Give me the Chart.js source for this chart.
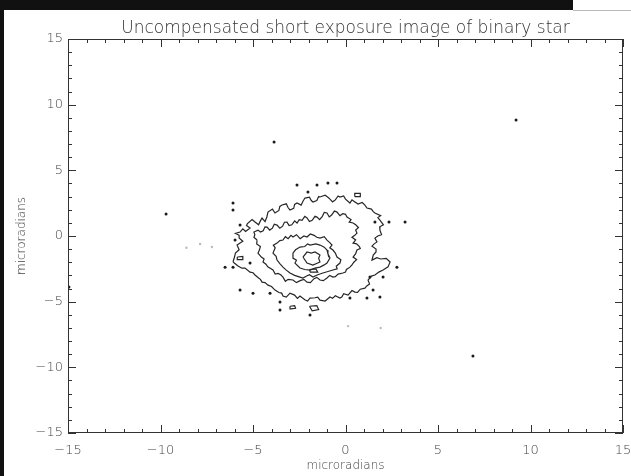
<!DOCTYPE html>
<html><head><meta charset="utf-8">
<script src="https://cdn.jsdelivr.net/npm/chart.js@4.4.1/dist/chart.umd.min.js"></script>
<style>
html,body{margin:0;padding:0;background:#fff;width:631px;height:476px;overflow:hidden}
#wrap{position:relative;width:631px;height:476px}
canvas{position:absolute;left:0;top:0}
.band{position:absolute;background:#111}
</style></head><body>
<div id="wrap"><canvas id="c" width="631" height="476"></canvas>
<div class="band" style="left:0;top:0;width:573px;height:10px"></div>
<div class="band" style="left:0;top:0;width:4px;height:476px"></div>
<div style="position:absolute;left:573px;top:10px;width:58px;height:1px;background:#bbb"></div>
</div>
<script>
const titleText = 'Uncompensated short exposure image of binary star';
const xAxisTitle = 'microradians';
const yAxisTitle = 'microradians';
const axisRange = [-15, 15];
const majorTicks = [-15, -10, -5, 0, 5, 10, 15];
const majorTickLabels = ['\u221215', '\u221210', '\u22125', '0', '5', '10', '15'];
const minorTicks = [-14, -13, -12, -11, -9, -8, -7, -6, -4, -3, -2, -1, 1, 2, 3, 4, 6, 7, 8, 9, 11, 12, 13, 14];

// contour paths (x, y in microradians), outer to inner
const contourLevel1 = [[-6.08,-1.98],[-6.00,-1.60],[-5.95,-1.30],[-5.75,-1.05],[-5.86,-0.69],[-5.55,-0.40],[-5.75,-0.15],[-5.75,0.05],[-5.95,0.20],[-5.70,0.30],[-5.55,0.55],[-5.40,0.35],[-5.16,0.61],[-5.35,0.80],[-5.30,0.95],[-5.05,1.25],[-4.89,1.06],[-4.70,0.85],[-4.60,1.15],[-4.51,1.37],[-4.35,1.10],[-4.25,1.45],[-4.19,1.82],[-3.95,2.05],[-3.81,1.75],[-3.60,1.95],[-3.55,2.25],[-3.43,2.36],[-3.20,2.45],[-3.10,2.15],[-3.00,1.98],[-2.80,2.10],[-2.75,2.40],[-2.62,2.51],[-2.40,2.35],[-2.30,2.65],[-2.19,2.89],[-1.95,2.95],[-1.85,2.70],[-1.76,2.59],[-1.55,2.70],[-1.45,3.00],[-1.38,2.97],[-1.10,3.10],[-0.95,2.95],[-0.84,2.81],[-0.70,2.60],[-0.55,2.75],[-0.40,3.05],[-0.30,2.97],[-0.10,3.05],[0.00,2.80],[0.24,2.51],[0.35,2.75],[0.45,2.65],[0.68,2.43],[0.90,2.55],[1.05,2.35],[1.16,2.13],[1.40,2.05],[1.50,1.85],[1.59,1.75],[1.90,1.55],[1.75,1.40],[1.86,1.21],[2.05,0.85],[1.85,0.70],[1.86,0.45],[1.95,0.10],[1.75,0.00],[1.59,-0.16],[1.70,-0.45],[1.55,-0.60],[1.43,-0.77],[1.65,-1.00],[1.65,-1.22],[1.50,-1.45],[1.43,-1.83],[1.70,-1.65],[1.90,-1.75],[2.20,-1.70],[2.41,-1.98],[2.30,-2.35],[2.03,-2.59],[1.80,-2.75],[1.59,-2.97],[1.40,-3.05],[1.22,-3.36],[1.30,-3.65],[1.15,-3.80],[1.05,-3.97],[0.80,-4.05],[0.65,-4.30],[0.51,-4.27],[0.35,-4.15],[0.14,-4.50],[-0.10,-4.40],[-0.20,-4.65],[-0.30,-4.73],[-0.55,-4.55],[-0.70,-4.75],[-0.84,-4.65],[-1.10,-4.95],[-1.38,-4.88],[-1.50,-4.65],[-1.65,-4.70],[-1.92,-4.73],[-2.05,-4.95],[-2.20,-4.85],[-2.46,-4.57],[-2.60,-4.75],[-2.75,-4.50],[-3.00,-4.35],[-3.20,-4.65],[-3.38,-4.57],[-3.45,-4.35],[-3.60,-4.30],[-3.81,-4.12],[-4.00,-3.85],[-4.19,-3.74],[-4.35,-3.55],[-4.51,-3.51],[-4.60,-3.30],[-4.70,-3.20],[-4.89,-2.97],[-5.00,-2.80],[-5.16,-2.75],[-5.43,-2.44],[-5.60,-2.45],[-5.81,-2.29],[-6.08,-1.98]];
const contourLevel2 = [[-4.78,-0.31],[-4.95,-0.10],[-4.90,0.10],[-4.95,0.30],[-4.73,0.45],[-4.60,0.30],[-4.45,0.40],[-4.35,0.70],[-4.24,0.68],[-4.10,0.45],[-3.95,0.60],[-3.85,0.90],[-3.70,0.83],[-3.55,0.60],[-3.40,0.75],[-3.30,1.05],[-3.16,1.06],[-3.05,0.80],[-2.90,0.85],[-2.75,1.15],[-2.62,0.99],[-2.50,1.25],[-2.35,1.20],[-2.20,1.50],[-2.08,1.37],[-1.95,1.10],[-1.80,1.20],[-1.65,1.50],[-1.54,1.44],[-1.40,1.25],[-1.25,1.50],[-1.15,1.80],[-1.00,1.75],[-0.88,1.45],[-0.75,1.60],[-0.60,1.90],[-0.46,1.82],[-0.30,1.55],[-0.15,1.70],[0.00,1.65],[0.08,1.44],[0.30,1.25],[0.20,1.05],[0.41,0.99],[0.55,0.85],[0.70,0.65],[0.55,0.45],[0.62,0.22],[0.50,0.05],[0.35,-0.10],[0.55,-0.30],[0.41,-0.54],[0.60,-0.60],[0.75,-0.80],[0.80,-0.95],[0.62,-1.07],[0.55,-1.35],[0.41,-1.60],[0.60,-1.80],[0.45,-2.00],[0.35,-2.20],[0.24,-2.37],[0.05,-2.55],[0.00,-2.75],[-0.14,-2.82],[-0.40,-2.90],[-0.55,-3.10],[-0.68,-3.13],[-0.85,-3.00],[-1.00,-3.20],[-1.20,-3.40],[-1.38,-3.35],[-1.55,-3.15],[-1.70,-3.25],[-1.90,-3.55],[-2.08,-3.51],[-2.25,-3.30],[-2.45,-3.40],[-2.65,-3.55],[-2.84,-3.35],[-3.10,-3.30],[-3.25,-3.45],[-3.38,-3.13],[-3.50,-2.95],[-3.65,-2.85],[-3.80,-2.90],[-3.92,-2.59],[-4.20,-2.35],[-4.30,-2.15],[-4.46,-1.98],[-4.40,-1.75],[-4.55,-1.60],[-4.73,-1.30],[-4.65,-1.05],[-4.60,-0.80],[-4.80,-0.60],[-4.78,-0.31]];
const contourLevel3 = [[-3.70,-0.54],[-3.55,-0.35],[-3.38,-0.31],[-3.25,-0.05],[-3.10,-0.20],[-2.95,0.05],[-2.84,-0.08],[-2.65,0.10],[-2.45,-0.20],[-2.25,0.00],[-2.08,-0.08],[-1.90,0.15],[-1.70,0.05],[-1.55,-0.10],[-1.38,-0.16],[-1.15,-0.05],[-1.00,-0.31],[-0.85,-0.50],[-0.73,-0.69],[-0.85,-0.90],[-0.68,-1.07],[-0.55,-1.30],[-0.46,-1.60],[-0.25,-1.80],[-0.30,-2.06],[-0.50,-2.30],[-0.45,-2.50],[-0.68,-2.59],[-0.95,-2.70],[-1.22,-2.82],[-1.50,-2.95],[-1.76,-3.13],[-1.95,-2.95],[-2.10,-3.05],[-2.30,-3.20],[-2.46,-3.13],[-2.75,-3.00],[-3.00,-2.82],[-3.20,-2.60],[-3.38,-2.37],[-3.55,-2.10],[-3.70,-1.83],[-3.75,-1.55],[-3.92,-1.30],[-3.80,-0.90],[-3.90,-0.70],[-3.70,-0.54]];
const contourLevel4 = [[-2.84,-1.30],[-2.70,-1.05],[-2.46,-0.84],[-2.20,-0.80],[-2.05,-0.60],[-1.92,-0.69],[-1.60,-0.60],[-1.38,-0.69],[-1.15,-0.85],[-1.00,-1.07],[-0.95,-1.35],[-0.84,-1.68],[-1.00,-2.06],[-1.15,-2.20],[-1.38,-2.37],[-1.65,-2.45],[-1.92,-2.59],[-2.20,-2.55],[-2.46,-2.44],[-2.73,-2.06],[-2.65,-1.85],[-2.84,-1.68],[-2.84,-1.30]];
const contourLevel5 = [[-2.30,-1.60],[-2.08,-1.22],[-1.85,-1.30],[-1.65,-1.22],[-1.38,-1.45],[-1.45,-1.70],[-1.38,-1.98],[-1.76,-2.21],[-2.08,-2.06],[-2.30,-1.60]];
const smallLoops = [
  [[-1.95,-2.55],[-1.60,-2.50],[-1.50,-2.75],[-1.90,-2.75],[-1.95,-2.55]],
  [[-1.95,-5.35],[-1.55,-5.30],[-1.45,-5.60],[-1.80,-5.70],[-1.95,-5.35]],
  [[-3.00,-5.35],[-2.75,-5.30],[-2.70,-5.50],[-2.95,-5.55],[-3.00,-5.35]],
  [[0.50,3.00],[0.80,3.00],[0.80,3.25],[0.50,3.25],[0.50,3.00]],
  [[-5.85,-1.60],[-5.55,-1.55],[-5.55,-1.80],[-5.85,-1.80],[-5.85,-1.60]]
];
const darkDots = [[-3.86,7.16],[-9.70,1.67],[9.22,8.83],[6.89,-9.14],[3.22,1.06],[1.59,1.06],[2.35,1.06],[-2.62,3.88],[-2.03,3.35],[-1.54,3.88],[-0.95,4.03],[-0.46,4.03],[-6.08,2.51],[-6.08,1.98],[-5.70,0.83],[-5.97,-0.31],[-5.16,-2.06],[-6.51,-2.37],[-6.08,-2.37],[-5.70,-4.12],[-5.00,-4.35],[-4.08,-4.35],[-3.54,-5.03],[-3.54,-5.64],[-1.92,-6.02],[1.32,-3.13],[1.86,-4.65],[1.49,-4.12],[2.78,-2.37],[2.03,-3.13],[1.16,-4.73],[0.24,-4.73],[-14.95,-3.89]];
const faintDots = [[-7.86,-0.61],[-7.22,-0.84],[0.14,-6.86],[-8.6,-0.9],[1.9,-7.0]];

const toXY = arr => arr.map(p => ({x: p[0], y: p[1]}));
const lineColor = '#262626';
const lineSet = arr => ({data: toXY(arr), showLine: true, pointRadius: 0, borderColor: lineColor, borderWidth: 1.2, fill: false, tension: 0});

const datasets = [contourLevel1, contourLevel2, contourLevel3, contourLevel4, contourLevel5].map(lineSet)
  .concat(smallLoops.map(lineSet))
  .concat([
    {data: toXY(darkDots), showLine: false, pointRadius: 1.5, pointBorderWidth: 0, pointBackgroundColor: '#1a1a1a'},
    {data: toXY(faintDots), showLine: false, pointRadius: 1.2, pointBorderWidth: 0, pointBackgroundColor: '#bbb'}
  ]);

const frameTicks = {
  id: 'frameTicks',
  afterDatasetsDraw(chart) {
    const {ctx, chartArea: a, scales: {x, y}} = chart;
    ctx.save();
    ctx.strokeStyle = '#333';
    ctx.lineWidth = 1;
    ctx.strokeRect(a.left + 0.5, a.top + 0.5, a.right - a.left - 1, a.bottom - a.top - 1);
    ctx.beginPath();
    const drawX = (v, len) => {
      const px = Math.round(x.getPixelForValue(v)) + 0.5;
      ctx.moveTo(px, a.bottom); ctx.lineTo(px, a.bottom - len);
      ctx.moveTo(px, a.top); ctx.lineTo(px, a.top + len);
    };
    const drawY = (v, len) => {
      const py = Math.round(y.getPixelForValue(v)) + 0.5;
      ctx.moveTo(a.left, py); ctx.lineTo(a.left + len, py);
      ctx.moveTo(a.right, py); ctx.lineTo(a.right - len, py);
    };
    minorTicks.forEach(v => { drawX(v, 4); drawY(v, 4); });
    majorTicks.forEach(v => { drawX(v, 8); drawY(v, 8); });
    ctx.stroke();
    ctx.restore();
  }
};

const labelFor = v => { const i = majorTicks.indexOf(v); return i >= 0 ? majorTickLabels[i] : ''; };
const tickFont = {family: 'DejaVu Sans', size: 13, weight: '200'};
const zeroPad = s => { s.paddingLeft = 0; s.paddingRight = 0; s.paddingTop = 0; s.paddingBottom = 0; };

new Chart(document.getElementById('c'), {
  type: 'scatter',
  data: {datasets},
  options: {
    responsive: false,
    animation: false,
    devicePixelRatio: 1,
    layout: {padding: {left: 0, right: 8, top: 0, bottom: 0}},
    plugins: {
      legend: {display: false},
      tooltip: {enabled: false},
      title: {display: true, fullSize: false, text: titleText, color: '#333', font: {family: 'DejaVu Sans', size: 17, weight: '200', lineHeight: 1.2}, padding: {top: 18, bottom: 0.6}}
    },
    scales: {
      x: {
        type: 'linear', min: axisRange[0], max: axisRange[1],
        grid: {display: false, drawTicks: false},
        border: {display: false},
        ticks: {stepSize: 5, autoSkip: false, maxRotation: 0, padding: 10, color: '#444', font: tickFont, callback: labelFor},
        title: {display: true, text: xAxisTitle, color: '#444', font: {family: 'DejaVu Sans', size: 12, weight: '200', lineHeight: 1.2}, padding: {top: 0, bottom: 3}},
        afterFit: s => { s.height = 43; zeroPad(s); }
      },
      y: {
        type: 'linear', min: axisRange[0], max: axisRange[1],
        grid: {display: false, drawTicks: false},
        border: {display: false},
        ticks: {stepSize: 5, autoSkip: false, padding: 5, color: '#444', font: tickFont, callback: labelFor},
        title: {display: true, text: yAxisTitle, color: '#444', font: {family: 'DejaVu Sans', size: 12, weight: '200', lineHeight: 1.2}, padding: {top: 15, bottom: 0}},
        afterFit: s => { s.width = 68; zeroPad(s); }
      }
    }
  },
  plugins: [frameTicks]
});
</script>
</body></html>
